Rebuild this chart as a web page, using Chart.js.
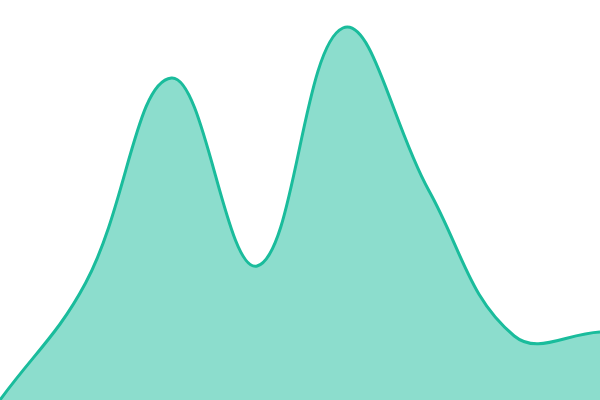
<!DOCTYPE html>
<html>
<head>
<meta charset="utf-8">
<script src="https://cdn.jsdelivr.net/npm/chart.js@4"></script>
<style>
  html, body { margin: 0; padding: 0; background: #fff; }
  #wrap { width: 600px; height: 400px; }
</style>
</head>
<body>
<div id="wrap"><canvas id="areaChart"></canvas></div>
<script>
const labels = ['1', '2', '3', '4', '5', '6', '7', '8'];
const values = [0, 29.3, 80.5, 33.5, 93, 52.5, 16, 17];

const ctx = document.getElementById('areaChart').getContext('2d');

new Chart(ctx, {
  type: 'line',
  data: {
    labels: labels,
    datasets: [{
      data: values,
      fill: true,
      borderColor: '#1abc9c',
      backgroundColor: 'rgba(26, 188, 156, 0.5)',
      borderWidth: 3,
      tension: 0.4,
      pointRadius: 0
    }]
  },
  options: {
    responsive: true,
    maintainAspectRatio: false,
    animation: false,
    layout: { padding: 0 },
    scales: {
      x: { display: false },
      y: { display: false, min: 0, max: 100 }
    },
    plugins: {
      legend: { display: false },
      tooltip: { enabled: false }
    }
  }
});
</script>
</body>
</html>
